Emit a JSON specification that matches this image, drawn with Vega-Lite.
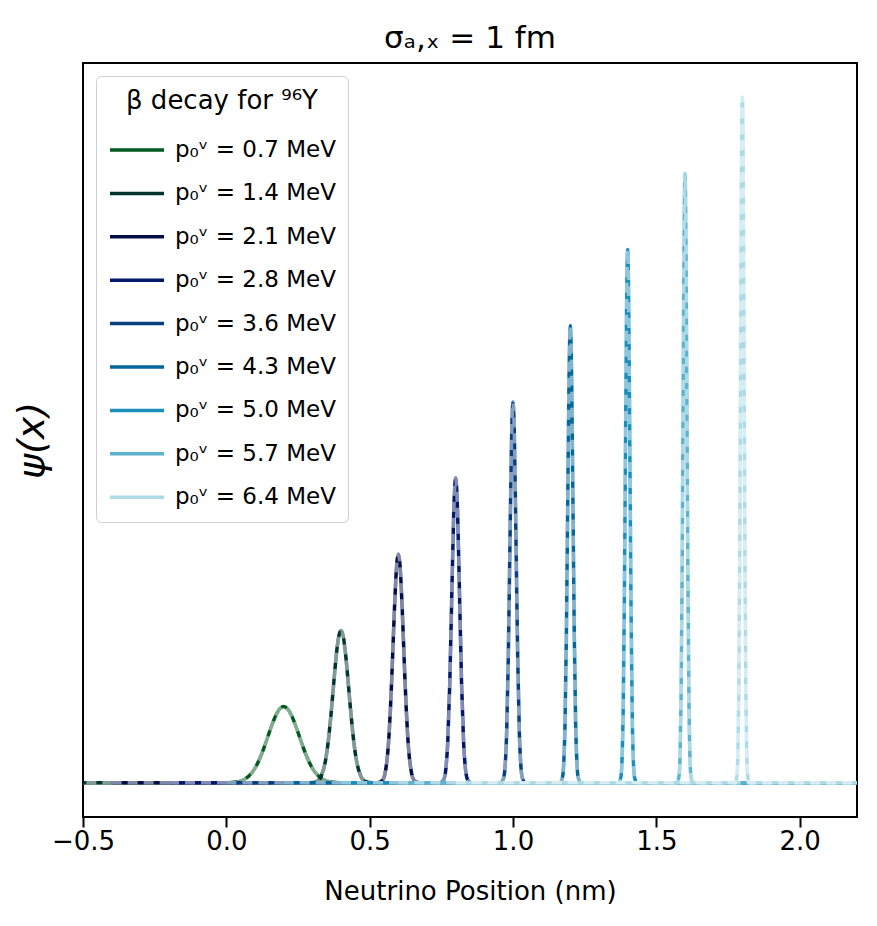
{
  "$schema": "https://vega.github.io/schema/vega-lite/v6.json",
  "width": 774,
  "height": 754,
  "autosize": {"type": "none"},
  "padding": {"left": 83, "top": 63, "right": 20, "bottom": 109},
  "background": "white",
  "title": {"text": "σₐ,ₓ = 1 fm", "fontSize": 31, "font": "DejaVu Sans", "fontWeight": "normal", "color": "black", "offset": 8, "anchor": "middle"},
  "config": {"view": {"stroke": "black", "strokeWidth": 2}, "font": "DejaVu Sans"},
  "datasets": {
    "curves": [
      {"p":"0.7","x":-0.8,"y":0},{"p":"0.7","x":-0.02,"y":0},{"p":"0.7","x":0.035,"y":0.0111},{"p":"0.7","x":0.0625,"y":0.0439},{"p":"0.7","x":0.09,"y":0.1353},{"p":"0.7","x":0.10375,"y":0.2163},{"p":"0.7","x":0.1175,"y":0.3247},{"p":"0.7","x":0.13125,"y":0.4578},{"p":"0.7","x":0.145,"y":0.6065},{"p":"0.7","x":0.15875,"y":0.7548},{"p":"0.7","x":0.1725,"y":0.8825},{"p":"0.7","x":0.18625,"y":0.9692},{"p":"0.7","x":0.2,"y":1},{"p":"0.7","x":0.21375,"y":0.9692},{"p":"0.7","x":0.2275,"y":0.8825},{"p":"0.7","x":0.24125,"y":0.7548},{"p":"0.7","x":0.255,"y":0.6065},{"p":"0.7","x":0.26875,"y":0.4578},{"p":"0.7","x":0.2825,"y":0.3247},{"p":"0.7","x":0.29625,"y":0.2163},{"p":"0.7","x":0.31,"y":0.1353},{"p":"0.7","x":0.3375,"y":0.0439},{"p":"0.7","x":0.365,"y":0.0111},{"p":"0.7","x":0.42,"y":0},{"p":"0.7","x":1.2,"y":0},
      {"p":"1.4","x":-0.6,"y":0},{"p":"1.4","x":0.29,"y":0},{"p":"1.4","x":0.3175,"y":0.0222},{"p":"1.4","x":0.33125,"y":0.0878},{"p":"1.4","x":0.345,"y":0.2706},{"p":"1.4","x":0.351875,"y":0.4326},{"p":"1.4","x":0.35875,"y":0.6494},{"p":"1.4","x":0.365625,"y":0.9156},{"p":"1.4","x":0.3725,"y":1.2131},{"p":"1.4","x":0.379375,"y":1.5097},{"p":"1.4","x":0.38625,"y":1.765},{"p":"1.4","x":0.393125,"y":1.9385},{"p":"1.4","x":0.4,"y":2},{"p":"1.4","x":0.406875,"y":1.9385},{"p":"1.4","x":0.41375,"y":1.765},{"p":"1.4","x":0.420625,"y":1.5097},{"p":"1.4","x":0.4275,"y":1.2131},{"p":"1.4","x":0.434375,"y":0.9156},{"p":"1.4","x":0.44125,"y":0.6494},{"p":"1.4","x":0.448125,"y":0.4326},{"p":"1.4","x":0.455,"y":0.2706},{"p":"1.4","x":0.46875,"y":0.0878},{"p":"1.4","x":0.4825,"y":0.0222},{"p":"1.4","x":0.51,"y":0},{"p":"1.4","x":1.4,"y":0},
      {"p":"2.1","x":-0.4,"y":0},{"p":"2.1","x":0.526667,"y":0},{"p":"2.1","x":0.545,"y":0.0333},{"p":"2.1","x":0.554167,"y":0.1318},{"p":"2.1","x":0.563333,"y":0.406},{"p":"2.1","x":0.567917,"y":0.6489},{"p":"2.1","x":0.5725,"y":0.974},{"p":"2.1","x":0.577083,"y":1.3735},{"p":"2.1","x":0.581667,"y":1.8196},{"p":"2.1","x":0.58625,"y":2.2645},{"p":"2.1","x":0.590833,"y":2.6475},{"p":"2.1","x":0.595417,"y":2.9077},{"p":"2.1","x":0.6,"y":3},{"p":"2.1","x":0.604583,"y":2.9077},{"p":"2.1","x":0.609167,"y":2.6475},{"p":"2.1","x":0.61375,"y":2.2645},{"p":"2.1","x":0.618333,"y":1.8196},{"p":"2.1","x":0.622917,"y":1.3735},{"p":"2.1","x":0.6275,"y":0.974},{"p":"2.1","x":0.632083,"y":0.6489},{"p":"2.1","x":0.636667,"y":0.406},{"p":"2.1","x":0.645833,"y":0.1318},{"p":"2.1","x":0.655,"y":0.0333},{"p":"2.1","x":0.673333,"y":0},{"p":"2.1","x":1.6,"y":0},
      {"p":"2.8","x":-0.2,"y":0},{"p":"2.8","x":0.745,"y":0},{"p":"2.8","x":0.75875,"y":0.0444},{"p":"2.8","x":0.765625,"y":0.1757},{"p":"2.8","x":0.7725,"y":0.5413},{"p":"2.8","x":0.779375,"y":1.2986},{"p":"2.8","x":0.78625,"y":2.4261},{"p":"2.8","x":0.793125,"y":3.53},{"p":"2.8","x":0.8,"y":4},{"p":"2.8","x":0.806875,"y":3.53},{"p":"2.8","x":0.81375,"y":2.4261},{"p":"2.8","x":0.820625,"y":1.2986},{"p":"2.8","x":0.8275,"y":0.5413},{"p":"2.8","x":0.834375,"y":0.1757},{"p":"2.8","x":0.84125,"y":0.0444},{"p":"2.8","x":0.855,"y":0},{"p":"2.8","x":1.8,"y":0},
      {"p":"3.6","x":0,"y":0},{"p":"3.6","x":0.956,"y":0},{"p":"3.6","x":0.967,"y":0.0555},{"p":"3.6","x":0.9725,"y":0.2197},{"p":"3.6","x":0.978,"y":0.6767},{"p":"3.6","x":0.9835,"y":1.6233},{"p":"3.6","x":0.989,"y":3.0327},{"p":"3.6","x":0.9945,"y":4.4125},{"p":"3.6","x":1,"y":5},{"p":"3.6","x":1.0055,"y":4.4125},{"p":"3.6","x":1.011,"y":3.0327},{"p":"3.6","x":1.0165,"y":1.6233},{"p":"3.6","x":1.022,"y":0.6767},{"p":"3.6","x":1.0275,"y":0.2197},{"p":"3.6","x":1.033,"y":0.0555},{"p":"3.6","x":1.044,"y":0},{"p":"3.6","x":2,"y":0},
      {"p":"4.3","x":0.2,"y":0},{"p":"4.3","x":1.163333,"y":0},{"p":"4.3","x":1.1725,"y":0.0667},{"p":"4.3","x":1.177083,"y":0.2636},{"p":"4.3","x":1.181667,"y":0.812},{"p":"4.3","x":1.18625,"y":1.9479},{"p":"4.3","x":1.190833,"y":3.6392},{"p":"4.3","x":1.195417,"y":5.295},{"p":"4.3","x":1.2,"y":6},{"p":"4.3","x":1.204583,"y":5.295},{"p":"4.3","x":1.209167,"y":3.6392},{"p":"4.3","x":1.21375,"y":1.9479},{"p":"4.3","x":1.218333,"y":0.812},{"p":"4.3","x":1.222917,"y":0.2636},{"p":"4.3","x":1.2275,"y":0.0667},{"p":"4.3","x":1.236667,"y":0},{"p":"4.3","x":2.2,"y":0},
      {"p":"5.0","x":0.4,"y":0},{"p":"5.0","x":1.368571,"y":0},{"p":"5.0","x":1.376429,"y":0.0778},{"p":"5.0","x":1.380357,"y":0.3076},{"p":"5.0","x":1.384286,"y":0.9474},{"p":"5.0","x":1.388214,"y":2.2726},{"p":"5.0","x":1.392143,"y":4.2457},{"p":"5.0","x":1.396071,"y":6.1775},{"p":"5.0","x":1.4,"y":7},{"p":"5.0","x":1.403929,"y":6.1775},{"p":"5.0","x":1.407857,"y":4.2457},{"p":"5.0","x":1.411786,"y":2.2726},{"p":"5.0","x":1.415714,"y":0.9474},{"p":"5.0","x":1.419643,"y":0.3076},{"p":"5.0","x":1.423571,"y":0.0778},{"p":"5.0","x":1.431429,"y":0},{"p":"5.0","x":2.4,"y":0},
      {"p":"5.7","x":0.6,"y":0},{"p":"5.7","x":1.5725,"y":0},{"p":"5.7","x":1.579375,"y":0.0889},{"p":"5.7","x":1.582813,"y":0.3515},{"p":"5.7","x":1.58625,"y":1.0827},{"p":"5.7","x":1.589688,"y":2.5972},{"p":"5.7","x":1.593125,"y":4.8522},{"p":"5.7","x":1.596563,"y":7.06},{"p":"5.7","x":1.6,"y":8},{"p":"5.7","x":1.603438,"y":7.06},{"p":"5.7","x":1.606875,"y":4.8522},{"p":"5.7","x":1.610313,"y":2.5972},{"p":"5.7","x":1.61375,"y":1.0827},{"p":"5.7","x":1.617188,"y":0.3515},{"p":"5.7","x":1.620625,"y":0.0889},{"p":"5.7","x":1.6275,"y":0},{"p":"5.7","x":2.6,"y":0},
      {"p":"6.4","x":0.8,"y":0},{"p":"6.4","x":1.775556,"y":0},{"p":"6.4","x":1.781667,"y":0.1},{"p":"6.4","x":1.784722,"y":0.3955},{"p":"6.4","x":1.787778,"y":1.2181},{"p":"6.4","x":1.790833,"y":2.9219},{"p":"6.4","x":1.793889,"y":5.4588},{"p":"6.4","x":1.796944,"y":7.9425},{"p":"6.4","x":1.8,"y":9},{"p":"6.4","x":1.803056,"y":7.9425},{"p":"6.4","x":1.806111,"y":5.4588},{"p":"6.4","x":1.809167,"y":2.9219},{"p":"6.4","x":1.812222,"y":1.2181},{"p":"6.4","x":1.815278,"y":0.3955},{"p":"6.4","x":1.818333,"y":0.1},{"p":"6.4","x":1.824444,"y":0},{"p":"6.4","x":2.8,"y":0}
    ]
  },
  "data": {"name": "curves"},
  "encoding": {
    "x": {"field": "x", "type": "quantitative",
      "scale": {"domain": [-0.5, 2.2], "nice": false, "zero": false},
      "axis": {"title": "Neutrino Position (nm)", "values": [-0.5, 0, 0.5, 1, 1.5, 2], "format": ".1f", "labelFlush": false, "labelOverlap": false, "labelFontSize": 26, "labelColor": "black", "labelFont": "DejaVu Sans", "tickColor": "black", "tickSize": 10, "tickWidth": 2, "labelPadding": 1, "domain": false, "grid": false, "titleFontSize": 26, "titleFont": "DejaVu Sans", "titleFontWeight": "normal", "titleColor": "black", "titlePadding": 24}},
    "y": {"field": "y", "type": "quantitative",
      "scale": {"domain": [-0.45, 9.45], "nice": false, "zero": false},
      "axis": {"title": "ψ(x)", "titleFontSize": 38, "titleFont": "DejaVu Sans", "titleFontStyle": "italic", "titleFontWeight": "normal", "titleColor": "black", "labels": false, "ticks": false, "domain": false, "grid": false, "titlePadding": 32}},
    "color": {"field": "p", "type": "nominal",
      "scale": {"domain": ["0.7","1.4","2.1","2.8","3.6","4.3","5.0","5.7","6.4"],
                "range": ["#005a1e","#00342e","#000f4a","#01196a","#063e7e","#04679c","#1a8fbb","#5cb3cf","#acdbe7"]},
      "legend": {"title": "β decay for ⁹⁶Y", "orient": "top-left", "offset": 13, "symbolType": "stroke", "symbolSize": 2916, "symbolStrokeWidth": 3.5, "labelFontSize": 23, "titleFontSize": 26, "labelFont": "DejaVu Sans", "titleFont": "DejaVu Sans", "titleFontWeight": "normal", "titleColor": "black", "labelColor": "black", "fillColor": "white", "strokeColor": "#d0d0d0", "cornerRadius": 5, "padding": 12, "rowPadding": 2.4, "titleAnchor": "middle", "titleLimit": 400, "titlePadding": 7, "labelOffset": 9, "labelLimit": 400, "labelExpr": "'p₀ᵛ = ' + datum.label + ' MeV'"}}
  },
  "layer": [
    {"transform": [{"filter": "datum.p == '0.7'"}], "layer": [
      {"mark": {"type": "line", "strokeWidth": 3.5, "interpolate": "monotone", "clip": true}},
      {"mark": {"type": "line", "strokeWidth": 3.5, "interpolate": "monotone", "clip": true, "strokeDash": [10, 6], "opacity": 0.5}, "encoding": {"color": {"value": "white"}}}]},
    {"transform": [{"filter": "datum.p == '1.4'"}], "layer": [
      {"mark": {"type": "line", "strokeWidth": 3.5, "interpolate": "monotone", "clip": true}},
      {"mark": {"type": "line", "strokeWidth": 3.5, "interpolate": "monotone", "clip": true, "strokeDash": [10, 6], "opacity": 0.5}, "encoding": {"color": {"value": "white"}}}]},
    {"transform": [{"filter": "datum.p == '2.1'"}], "layer": [
      {"mark": {"type": "line", "strokeWidth": 3.5, "interpolate": "monotone", "clip": true}},
      {"mark": {"type": "line", "strokeWidth": 3.5, "interpolate": "monotone", "clip": true, "strokeDash": [10, 6], "opacity": 0.5}, "encoding": {"color": {"value": "white"}}}]},
    {"transform": [{"filter": "datum.p == '2.8'"}], "layer": [
      {"mark": {"type": "line", "strokeWidth": 3.5, "interpolate": "monotone", "clip": true}},
      {"mark": {"type": "line", "strokeWidth": 3.5, "interpolate": "monotone", "clip": true, "strokeDash": [10, 6], "opacity": 0.5}, "encoding": {"color": {"value": "white"}}}]},
    {"transform": [{"filter": "datum.p == '3.6'"}], "layer": [
      {"mark": {"type": "line", "strokeWidth": 3.5, "interpolate": "monotone", "clip": true}},
      {"mark": {"type": "line", "strokeWidth": 3.5, "interpolate": "monotone", "clip": true, "strokeDash": [10, 6], "opacity": 0.5}, "encoding": {"color": {"value": "white"}}}]},
    {"transform": [{"filter": "datum.p == '4.3'"}], "layer": [
      {"mark": {"type": "line", "strokeWidth": 3.5, "interpolate": "monotone", "clip": true}},
      {"mark": {"type": "line", "strokeWidth": 3.5, "interpolate": "monotone", "clip": true, "strokeDash": [10, 6], "opacity": 0.5}, "encoding": {"color": {"value": "white"}}}]},
    {"transform": [{"filter": "datum.p == '5.0'"}], "layer": [
      {"mark": {"type": "line", "strokeWidth": 3.5, "interpolate": "monotone", "clip": true}},
      {"mark": {"type": "line", "strokeWidth": 3.5, "interpolate": "monotone", "clip": true, "strokeDash": [10, 6], "opacity": 0.5}, "encoding": {"color": {"value": "white"}}}]},
    {"transform": [{"filter": "datum.p == '5.7'"}], "layer": [
      {"mark": {"type": "line", "strokeWidth": 3.5, "interpolate": "monotone", "clip": true}},
      {"mark": {"type": "line", "strokeWidth": 3.5, "interpolate": "monotone", "clip": true, "strokeDash": [10, 6], "opacity": 0.5}, "encoding": {"color": {"value": "white"}}}]},
    {"transform": [{"filter": "datum.p == '6.4'"}], "layer": [
      {"mark": {"type": "line", "strokeWidth": 3.5, "interpolate": "monotone", "clip": true}},
      {"mark": {"type": "line", "strokeWidth": 3.5, "interpolate": "monotone", "clip": true, "strokeDash": [10, 6], "opacity": 0.5}, "encoding": {"color": {"value": "white"}}}]}
  ]
}
